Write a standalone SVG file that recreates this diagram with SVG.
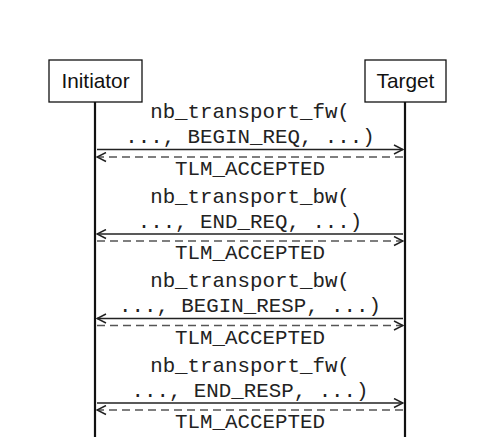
<svg xmlns="http://www.w3.org/2000/svg" width="493" height="447" viewBox="0 0 493 447">
<defs>
<style>
.box{fill:#fff;stroke:#111;stroke-width:1.3}
.lbl{font-family:"Liberation Sans",Arial,sans-serif;font-size:20.8px;fill:#111;text-anchor:middle}
.life{stroke:#111;stroke-width:2.2}
.msg{font-family:"Liberation Mono","Courier New",monospace;font-size:20.8px;fill:#222;text-anchor:middle}
.call{stroke:#222;stroke-width:1.4;fill:none}
.ret{stroke:#555;stroke-width:1.4;fill:none;stroke-dasharray:8 5}
</style>
<marker id="ah" viewBox="0 0 11 11" refX="10" refY="5.5" markerWidth="11" markerHeight="11" markerUnits="userSpaceOnUse" orient="auto-start-reverse">
<path d="M1,1 L10,5.5 L1,10" fill="none" stroke="#222" stroke-width="1.5"/>
</marker>
</defs>
<rect width="493" height="447" fill="#fff"/>
<g id="initiator">
<rect class="box" x="49" y="60" width="93" height="42"/>
<text class="lbl" x="95.5" y="87.5">Initiator</text>
<line class="life" x1="95" y1="102" x2="95" y2="437"/>
</g>
<g id="target">
<rect class="box" x="365" y="60" width="81" height="42"/>
<text class="lbl" x="405.5" y="87.5">Target</text>
<line class="life" x1="405" y1="102" x2="405" y2="437"/>
</g>
<g id="connectors">
<line class="call" x1="97" y1="149.5" x2="403" y2="149.5" marker-end="url(#ah)"/>
<line class="ret" x1="403" y1="157" x2="97" y2="157" marker-end="url(#ah)"/>
<line class="call" x1="403" y1="234" x2="97" y2="234" marker-end="url(#ah)"/>
<line class="ret" x1="97" y1="241" x2="403" y2="241" marker-end="url(#ah)"/>
<line class="call" x1="403" y1="318.5" x2="97" y2="318.5" marker-end="url(#ah)"/>
<line class="ret" x1="97" y1="325.5" x2="403" y2="325.5" marker-end="url(#ah)"/>
<line class="call" x1="97" y1="403" x2="403" y2="403" marker-end="url(#ah)"/>
<line class="ret" x1="403" y1="410" x2="97" y2="410" marker-end="url(#ah)"/>
</g>
<g id="labels">
<text class="msg" x="250" y="118">nb_transport_fw(</text>
<text class="msg" x="250" y="143">..., BEGIN_REQ, ...)</text>
<text class="msg" x="250" y="174.5">TLM_ACCEPTED</text>
<text class="msg" x="250" y="202.5">nb_transport_bw(</text>
<text class="msg" x="250" y="227.5">..., END_REQ, ...)</text>
<text class="msg" x="250" y="259">TLM_ACCEPTED</text>
<text class="msg" x="250" y="287">nb_transport_bw(</text>
<text class="msg" x="250" y="312">..., BEGIN_RESP, ...)</text>
<text class="msg" x="250" y="343.5">TLM_ACCEPTED</text>
<text class="msg" x="250" y="371.5">nb_transport_fw(</text>
<text class="msg" x="250" y="396.5">..., END_RESP, ...)</text>
<text class="msg" x="250" y="428">TLM_ACCEPTED</text>
</g>
</svg>
